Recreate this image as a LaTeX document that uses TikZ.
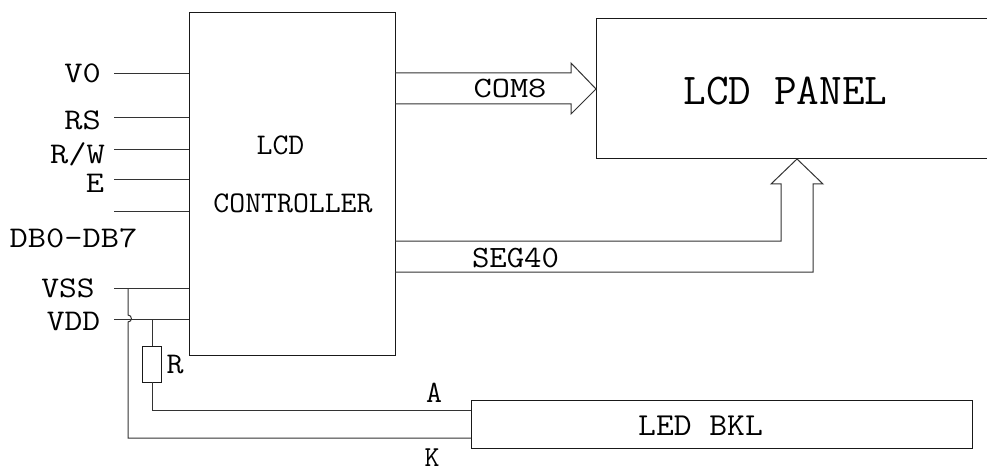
\documentclass[tikz,border=0pt]{standalone}
\usepackage{graphicx}
\newcommand\tx[3]{\scalebox{#2}[1]{\fontsize{#1}{#1}\selectfont\ttfamily #3}}
\begin{document}
\begin{tikzpicture}[x=1pt,y=-1pt,
  wire/.style={draw=black!80,line width=1pt},
  box/.style={draw=black!90,line width=1pt,inner sep=0pt,outer sep=0pt},
  lbl/.style={inner sep=0pt,anchor=base}]
\useasboundingbox[fill=white] (0,0) rectangle (987,473);

% blocks
\node[box,minimum width=206pt,minimum height=342pt,anchor=north west] (ctrl) at (189,13) {};
\node[box,minimum width=560pt,minimum height=140pt,anchor=north west] (panel) at (596,19) {};
\node[box,minimum width=501pt,minimum height=48pt,anchor=north west] (led) at (471,400) {};
\node[box,minimum width=19pt,minimum height=36pt,anchor=north] (res) at (152,346) {};

% input lines
\foreach \n/\y in {v0/74,rs/118,rw/150,e/180,db/211,vss/288,vdd/319}{
  \coordinate (\n) at (114,\y);
  \draw[wire] (\n) -- (\n -| ctrl.west);
}

% VSS to K (with hop over VDD)
\coordinate (vssj) at (128,288);
\coordinate (kk) at (128,438);
\draw[wire] (vssj) -- (128,315) .. controls (132.5,315) and (132.5,322) .. (128,322) -- (kk) -- (kk -| led.west);

% VDD through R to A
\coordinate (rj) at (152,319);
\coordinate (aa) at (152,410);
\draw[wire] (rj) -- (res.north);
\draw[wire] (res.south) -- (aa) -- (aa -| led.west);

% COM8 arrow
\draw[wire] (ctrl.east |- 0,73) -- (571,73) -- (571,63) -- (panel.west |- 0,89)
  -- (571,114) -- (571,104) -- (ctrl.east |- 0,104);

% SEG40 arrow
\draw[wire] (ctrl.east |- 0,241) -- (781,241) -- (781,184) -- (771,184)
  -- (797,0 |- panel.south) -- (823,184) -- (813,184) -- (813,272) -- (ctrl.east |- 0,272);

% labels
\node[lbl] (lv0) at (82.5,83) {\tx{30}{1.18}{V0}};
\node[lbl] (lrs) at (82.5,130) {\tx{30}{1.18}{RS}};
\node[lbl] (lrw) at (77.5,164) {\tx{30}{1.18}{R/W}};
\node[lbl] (le) at (95,193) {\tx{30}{1.18}{E}};
\node[lbl] (ldb) at (73.5,247) {\tx{30}{1.18}{DB0–DB7}};
\node[lbl] (lvss) at (68,297) {\tx{30}{1.15}{VSS}};
\node[lbl] (lvdd) at (73.5,330) {\tx{30}{1.15}{VDD}};
\node[lbl] (lr) at (175,373) {\tx{30}{1.1}{R}};
\node[lbl] (llcd) at (280.5,155) {\tx{30}{1.03}{LCD}};
\node[lbl] (lctrl) at (293,212) {\tx{30}{1.03}{CONTROLLER}};
\node[lbl] (lcom) at (510,98) {\tx{29.5}{1.2}{COM8}};
\node[lbl] (lseg) at (515.5,267) {\tx{31}{1.09}{SEG40}};
\node[lbl] (la) at (434,402) {\tx{31}{1.0}{A}};
\node[lbl] (lk) at (432,466) {\tx{29}{1.0}{K}};
\node[lbl] (lled) at (700.5,435) {\tx{32}{1.08}{LED BKL}};
\node[lbl] (lpanel) at (785.5,105) {\tx{44}{1.0}{LCD PANEL}};
\end{tikzpicture}
\end{document}
